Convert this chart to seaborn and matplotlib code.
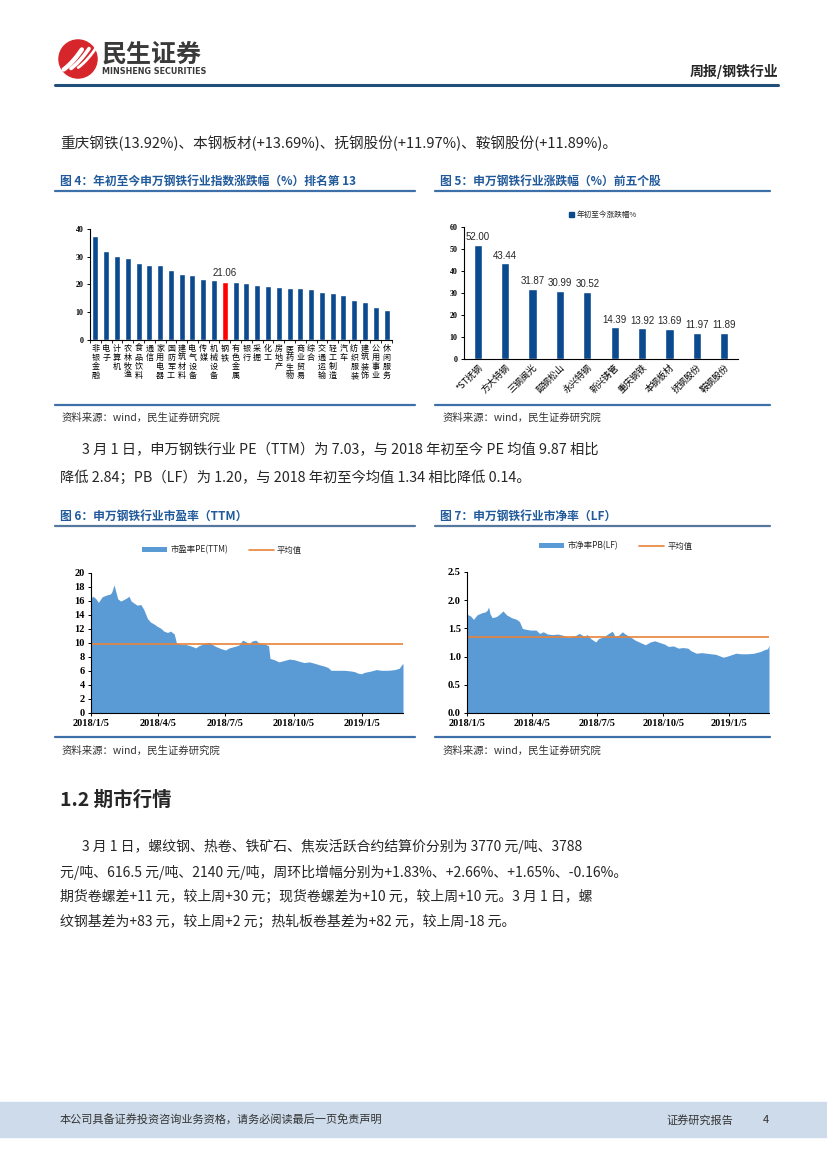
import matplotlib
matplotlib.use("Agg")
import matplotlib.pyplot as plt
import matplotlib.patches as mpatches
import numpy as np
import pandas as pd
import seaborn as sns

sns.set_theme(style="ticks")
plt.rcParams['font.family'] = ['Noto Sans CJK SC', 'DejaVu Sans']
plt.rcParams['axes.unicode_minus'] = False

# ---- data ----
industries = ["非银金融", "电子", "计算机", "农林牧渔", "食品饮料", "通信", "家用电器",
              "国防军工", "建筑材料", "电气设备", "传媒", "机械设备", "钢铁", "有色金属",
              "银行", "采掘", "化工", "房地产", "医药生物", "商业贸易", "综合", "交通运输",
              "轻工制造", "汽车", "纺织服装", "建筑装饰", "公用事业", "休闲服务"]
industry_chg = [37.6, 32.1, 30.3, 29.6, 27.8, 27.1, 27.1, 25.3, 23.8, 23.5, 22.0, 21.7,
                21.06, 20.9, 20.6, 19.9, 19.5, 19.2, 18.8, 18.8, 18.4, 17.4, 17.0, 16.3,
                14.3, 13.8, 12.0, 10.7]
steel_name = "钢铁"

stocks = ["*ST抚钢", "方大特钢", "三钢闽光", "韶钢松山", "永兴特钢", "新兴铸管",
          "重庆钢铁", "本钢板材", "抚钢股份", "鞍钢股份"]
stock_chg = [52.00, 43.44, 31.87, 30.99, 30.52, 14.39, 13.92, 13.69, 11.97, 11.89]
stock_series = "年初至今涨跌幅%"

pe_dates = ["2018-01-05", "2018-01-07", "2018-01-11", "2018-01-15", "2018-01-20", "2018-01-27",
            "2018-01-31", "2018-02-02", "2018-02-05", "2018-02-07", "2018-02-10", "2018-02-14",
            "2018-02-18", "2018-02-23", "2018-02-25", "2018-02-28", "2018-03-04", "2018-03-08",
            "2018-03-13", "2018-03-17", "2018-03-22", "2018-03-26", "2018-03-31", "2018-04-04",
            "2018-04-09", "2018-04-13", "2018-04-18", "2018-04-22", "2018-04-27", "2018-04-30",
            "2018-05-06", "2018-05-12", "2018-05-19", "2018-05-26", "2018-05-30", "2018-06-06",
            "2018-06-13", "2018-06-17", "2018-06-22", "2018-06-29", "2018-07-05", "2018-07-10",
            "2018-07-17", "2018-07-23", "2018-07-28", "2018-08-01", "2018-08-06", "2018-08-10",
            "2018-08-15", "2018-08-19", "2018-08-24", "2018-08-28", "2018-09-01", "2018-09-03",
            "2018-09-09", "2018-09-15", "2018-09-22", "2018-09-29", "2018-10-06", "2018-10-12",
            "2018-10-19", "2018-10-26", "2018-11-02", "2018-11-08", "2018-11-15", "2018-11-20",
            "2018-11-24", "2018-12-03", "2018-12-12", "2018-12-21", "2018-12-26", "2018-12-30",
            "2019-01-04", "2019-01-08", "2019-01-17", "2019-01-24", "2019-01-31", "2019-02-09",
            "2019-02-18", "2019-02-24", "2019-02-28", "2019-03-01"]
pe_values = [16.3, 16.7, 16.4, 15.8, 16.6, 16.9, 17.0, 17.3, 18.3, 17.5,
             16.3, 16.0, 16.2, 16.5, 16.7, 16.0, 15.7, 15.4, 15.5, 14.8,
             13.5, 13.0, 12.7, 12.4, 12.1, 11.7, 11.5, 11.7, 11.3, 10.0,
             9.8, 9.8, 9.6, 9.3, 9.6, 9.9, 10.1, 9.8, 9.5, 9.2,
             9.0, 9.3, 9.5, 9.7, 10.4, 10.2, 9.9, 10.3, 10.4, 10.0,
             9.9, 9.8, 9.6, 7.8, 7.6, 7.3, 7.5, 7.7, 7.6, 7.4,
             7.2, 7.3, 7.1, 6.9, 6.7, 6.5, 6.1, 6.1, 6.1, 6.0,
             5.9, 5.7, 5.6, 5.8, 6.0, 6.2, 6.1, 6.1, 6.2, 6.4,
             7.0, 7.03]
pe_mean = 9.87

pb_dates = ["2018-01-05", "2018-01-10", "2018-01-14", "2018-01-19", "2018-01-26", "2018-01-30",
            "2018-02-02", "2018-02-04", "2018-02-06", "2018-02-09", "2018-02-15", "2018-02-20",
            "2018-02-24", "2018-03-01", "2018-03-08", "2018-03-15", "2018-03-19", "2018-03-23",
            "2018-03-29", "2018-04-04", "2018-04-11", "2018-04-16", "2018-04-21", "2018-04-27",
            "2018-05-04", "2018-05-11", "2018-05-18", "2018-05-25", "2018-06-03", "2018-06-10",
            "2018-06-17", "2018-06-21", "2018-06-26", "2018-07-03", "2018-07-07", "2018-07-14",
            "2018-07-21", "2018-07-26", "2018-07-30", "2018-08-04", "2018-08-09", "2018-08-13",
            "2018-08-20", "2018-08-27", "2018-09-03", "2018-09-10", "2018-09-17", "2018-09-23",
            "2018-09-30", "2018-10-07", "2018-10-12", "2018-10-19", "2018-10-26", "2018-11-01",
            "2018-11-08", "2018-11-13", "2018-11-20", "2018-11-27", "2018-12-04", "2018-12-10",
            "2018-12-17", "2018-12-27", "2018-12-31", "2019-01-07", "2019-01-14", "2019-01-21",
            "2019-01-30", "2019-02-08", "2019-02-17", "2019-02-22", "2019-02-27", "2019-03-01"]
pb_values = [1.75, 1.72, 1.66, 1.74, 1.78, 1.79, 1.82, 1.88, 1.76, 1.69,
             1.71, 1.76, 1.81, 1.74, 1.69, 1.66, 1.62, 1.50, 1.48, 1.47,
             1.47, 1.41, 1.44, 1.40, 1.39, 1.40, 1.38, 1.34, 1.36, 1.41,
             1.36, 1.39, 1.32, 1.26, 1.32, 1.35, 1.41, 1.45, 1.36, 1.38,
             1.44, 1.40, 1.35, 1.29, 1.25, 1.21, 1.26, 1.28, 1.25, 1.22,
             1.18, 1.19, 1.15, 1.16, 1.15, 1.10, 1.06, 1.07, 1.06, 1.05,
             1.04, 0.99, 1.00, 1.03, 1.06, 1.05, 1.05, 1.06, 1.09, 1.12,
             1.14, 1.20]
pb_mean = 1.34

date_ticks = ["2018-01-05", "2018-04-05", "2018-07-05", "2018-10-05", "2019-01-05"]
date_tick_labels = ["2018/1/5", "2018/4/5", "2018/7/5", "2018/10/5", "2019/1/5"]

# ---- colours ----
BAR = "#0b4a8e"
RED = "#ff0000"
AREA = "#5b9bd5"
MEAN = "#e8833a"
TITLE = "#215a9b"
RULE = "#3d6fa8"
SERIF = ["Liberation Serif", "DejaVu Serif"]

W, H = 827, 1169
fig = plt.figure(figsize=(W / 100, H / 100), dpi=100)


def box(x0, y0, x1, y1):
    return fig.add_axes([x0 / W, 1 - y1 / H, (x1 - x0) / W, (y1 - y0) / H])


def put(x, y, s, **kw):
    kw.setdefault("va", "center")
    fig.text(x / W, 1 - y / H, s, **kw)


def hline(x0, x1, y, color=RULE, lw=1.6):
    fig.add_artist(plt.Line2D([x0 / W, x1 / W], [1 - y / H, 1 - y / H], color=color, lw=lw))


def style_axes(ax, size):
    sns.despine(ax=ax)
    for s in ("left", "bottom"):
        ax.spines[s].set_color("black")
        ax.spines[s].set_linewidth(0.8)
    ax.set_xlabel("")
    ax.set_ylabel("")
    ax.tick_params(axis="both", length=2.5, width=0.7, pad=2, colors="black")
    for lab in ax.get_yticklabels():
        lab.set_fontfamily(SERIF)
        lab.set_fontweight("bold")
        lab.set_fontsize(size)


# ---- header ----
logo = box(58, 39, 98, 79)
logo.set_aspect("equal")
logo.axis("off")
logo.add_patch(mpatches.Circle((0, 0), 1, color="#d7262b"))
for k in range(3):
    t = np.linspace(0, 1, 30)
    xs = -0.75 + 0.38 * k + 0.95 * t
    ys = -0.55 + 1.05 * t - 0.35 * t * (1 - t) + 0.05 * k
    logo.plot(xs, ys, color="white", lw=3.2 - 0.6 * k, solid_capstyle="round")
logo.set_xlim(-1.05, 1.05)
logo.set_ylim(-1.05, 1.05)

put(102, 55, "民生证券", fontsize=18, weight="bold", color="#3a3a3a")
put(102, 72, "MINSHENG SECURITIES", fontsize=5.8, weight="bold", color="#3a3a3a",
    family=["DejaVu Sans"])
put(778, 71, "周报/钢铁行业", fontsize=10, weight="bold", ha="right")
hline(55, 778, 85, color="#1f4e79", lw=2.2)

put(60, 143, "重庆钢铁(13.92%)、本钢板材(+13.69%)、抚钢股份(+11.97%)、鞍钢股份(+11.89%)。",
    fontsize=10.5)

# ---- figure 4 / 5 titles ----
put(60, 181, "图 4：年初至今申万钢铁行业指数涨跌幅（%）排名第 13", fontsize=8.5,
    weight="bold", color=TITLE)
put(440, 181, "图 5：申万钢铁行业涨跌幅（%）前五个股", fontsize=8.5, weight="bold", color=TITLE)
hline(55, 415, 191)
hline(435, 770, 191)

# ---- figure 4: industry ranking ----
ax4 = box(90, 229, 392, 340)
df4 = pd.DataFrame({"industry": industries, "chg": industry_chg})
pal4 = [RED if n == steel_name else BAR for n in industries]
sns.barplot(data=df4, x="industry", y="chg", hue="industry", palette=pal4, legend=False,
            width=0.55, saturation=1, ax=ax4)
ax4.set_xlim(-0.5, len(industries) - 0.5)
ax4.set_ylim(0, 40)
ax4.set_yticks(range(0, 41, 10))
ax4.set_xticks(range(len(industries)))
ax4.set_xticklabels(["\n".join(n) for n in industries], fontsize=5.8, linespacing=1.0)
ax4.set_xticks(np.arange(-0.5, len(industries), 1), minor=True)
style_axes(ax4, 5.8)
ax4.tick_params(axis="x", which="major", length=0, pad=3)
ax4.tick_params(axis="x", which="minor", length=2.5, width=0.7)
i_steel = industries.index(steel_name)
ax4.text(i_steel, industry_chg[i_steel] + 1.3, f"{industry_chg[i_steel]:.2f}", ha="center",
         va="bottom", fontsize=7, family=["Liberation Sans"])

# ---- figure 5: top stocks ----
ax5 = box(464, 227, 738, 359)
sns.barplot(x=stocks, y=stock_chg, color=BAR, width=0.3, saturation=1, ax=ax5)
ax5.set_xlim(-0.5, len(stocks) - 0.5)
ax5.set_ylim(0, 60)
ax5.set_yticks(range(0, 61, 10))
ax5.bar_label(ax5.containers[0], fmt="%.2f", fontsize=7, padding=2,
              family=["Liberation Sans"])
ax5.set_xticks(range(len(stocks)))
ax5.set_xticklabels(stocks, rotation=45, ha="right", rotation_mode="anchor", fontsize=6.5)
style_axes(ax5, 5.8)
ax5.tick_params(axis="x", length=0, pad=3)
ax5.legend(handles=[mpatches.Patch(color=BAR, label=stock_series)], loc="center",
           bbox_to_anchor=(603 / W, 1 - 215 / H), bbox_transform=fig.transFigure,
           frameon=False, fontsize=5.5, handlelength=0.6, handleheight=0.6,
           handletextpad=0.4)

hline(55, 415, 405)
hline(435, 770, 405)
put(62, 418, "资料来源：wind，民生证券研究院", fontsize=7.5, color="#333333")
put(443, 418, "资料来源：wind，民生证券研究院", fontsize=7.5, color="#333333")

put(82, 450, "3 月 1 日，申万钢铁行业 PE（TTM）为 7.03，与 2018 年初至今 PE 均值 9.87 相比",
    fontsize=10.3)
put(60, 477, "降低 2.84；PB（LF）为 1.20，与 2018 年初至今均值 1.34 相比降低 0.14。",
    fontsize=10.3)

# ---- figure 6 / 7 titles ----
put(60, 516, "图 6：申万钢铁行业市盈率（TTM）", fontsize=8.5, weight="bold", color=TITLE)
put(440, 516, "图 7：申万钢铁行业市净率（LF）", fontsize=8.5, weight="bold", color=TITLE)
hline(55, 415, 526, color="#55789c")
hline(435, 770, 526, color="#55789c")


def valuation(ax, dates, values, mean, area_label, ymax, step, fmt, legend_xy):
    d = pd.to_datetime(dates)
    ax.fill_between(d, values, color=AREA, lw=0, label=area_label)
    sns.lineplot(x=[d[0], d[-1]], y=[mean, mean], color=MEAN, lw=1.2, ax=ax, label="平均值")
    ax.set_xlim(d[0], d[-1])
    ax.set_ylim(0, ymax)
    ax.set_yticks(np.arange(0, ymax + step / 2, step))
    ax.set_yticklabels([fmt.format(v) for v in np.arange(0, ymax + step / 2, step)])
    ax.set_xticks(pd.to_datetime(date_ticks))
    ax.set_xticklabels(date_tick_labels, fontsize=7.5, family=SERIF, weight="bold")
    style_axes(ax, 7.5)
    h, l = ax.get_legend_handles_labels()
    ax.legend(h, l, loc="center", ncol=2, bbox_to_anchor=(legend_xy[0] / W, 1 - legend_xy[1] / H),
              bbox_transform=fig.transFigure, frameon=False, fontsize=6, handlelength=3.0,
              handleheight=0.5, columnspacing=2.5, handletextpad=0.4)


ax6 = box(91, 573, 403, 713)
valuation(ax6, pe_dates, pe_values, pe_mean, "市盈率PE(TTM)", 20, 2, "{:.0f}", (222, 550))
ax7 = box(467, 572, 769, 713)
valuation(ax7, pb_dates, pb_values, pb_mean, "市净率PB(LF)", 2.5, 0.5, "{:.1f}", (616, 546))

hline(55, 415, 737)
hline(435, 770, 737)
put(62, 751, "资料来源：wind，民生证券研究院", fontsize=7.5, color="#333333")
put(443, 751, "资料来源：wind，民生证券研究院", fontsize=7.5, color="#333333")

# ---- section 1.2 ----
put(60, 800, "1.2 期市行情", fontsize=14, weight="bold")
put(82, 846, "3 月 1 日，螺纹钢、热卷、铁矿石、焦炭活跃合约结算价分别为 3770 元/吨、3788",
    fontsize=10)
put(60, 872, "元/吨、616.5 元/吨、2140 元/吨，周环比增幅分别为+1.83%、+2.66%、+1.65%、-0.16%。",
    fontsize=10)
put(60, 897, "期货卷螺差+11 元，较上周+30 元；现货卷螺差为+10 元，较上周+10 元。3 月 1 日，螺",
    fontsize=10)
put(60, 922, "纹钢基差为+83 元，较上周+2 元；热轧板卷基差为+82 元，较上周-18 元。",
    fontsize=10)

# ---- footer ----
fig.add_artist(mpatches.Rectangle((0, 1 - 1137 / H), 1, 35 / H, color="#cddbea",
                                  transform=fig.transFigure, zorder=0))
put(60, 1120, "本公司具备证券投资咨询业务资格，请务必阅读最后一页免责声明", fontsize=8,
    color="#333333")
put(666, 1120, "证券研究报告", fontsize=8, color="#333333")
put(763, 1120, "4", fontsize=8, color="#333333")

fig.savefig("out.png", dpi=100)
